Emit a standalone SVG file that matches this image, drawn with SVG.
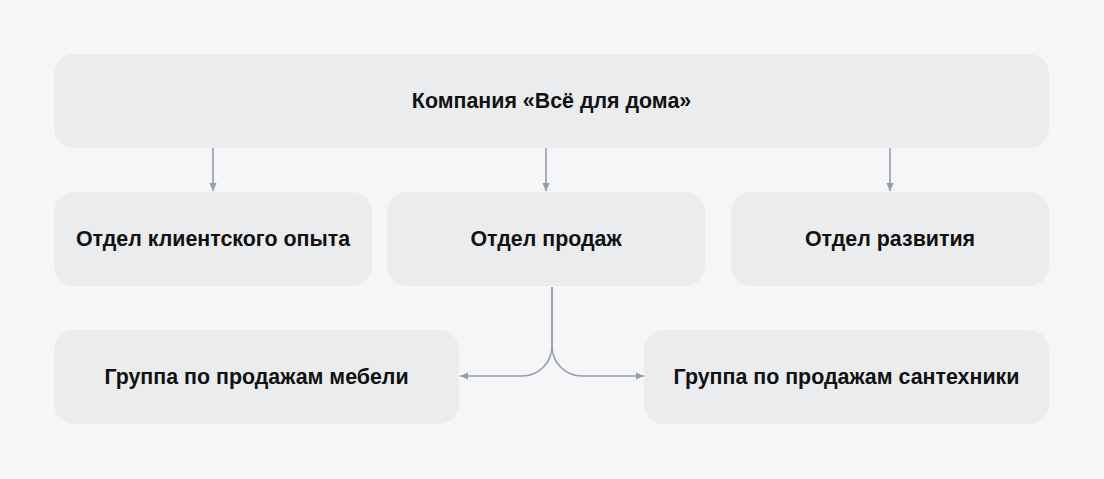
<svg xmlns="http://www.w3.org/2000/svg" width="1104" height="479" viewBox="0 0 1104 479">
<defs>
<style>
.box{fill:#ebecee}
.t{font-family:"Liberation Sans",Arial,sans-serif;font-weight:bold;font-size:21.4px;fill:#111;text-anchor:middle;dominant-baseline:central}
.c{fill:none;stroke:#979ca5;stroke-width:1.6}
</style>
<marker id="ah" viewBox="0 0 10 10" refX="10" refY="5" markerWidth="8" markerHeight="8" markerUnits="userSpaceOnUse" orient="auto-start-reverse">
<path d="M0 0.5L10 5L0 9.5Z" fill="#979ca5"/>
</marker>
</defs>
<rect width="1104" height="479" fill="#f5f6f8"/>
<g id="connectors">
<path class="c" d="M213 148V191" marker-end="url(#ah)"/>
<path class="c" d="M546 148V191" marker-end="url(#ah)"/>
<path class="c" d="M890 148V191" marker-end="url(#ah)"/>
<path class="c" d="M552 287V346A30 30 0 0 1 522 376H460" marker-end="url(#ah)"/>
<path class="c" d="M552 287V346A30 30 0 0 0 582 376H644" marker-end="url(#ah)"/>
</g>
<g id="company"><rect class="box" x="54" y="54" width="995" height="94" rx="20"/><text class="t" x="551.5" y="101">Компания «Всё для дома»</text></g>
<g id="cx"><rect class="box" x="54" y="192" width="318" height="94" rx="20"/><text class="t" x="213" y="239">Отдел клиентского опыта</text></g>
<g id="sales"><rect class="box" x="387" y="192" width="318" height="94" rx="20"/><text class="t" x="546" y="239">Отдел продаж</text></g>
<g id="dev"><rect class="box" x="731" y="192" width="318" height="94" rx="20"/><text class="t" x="890" y="239">Отдел развития</text></g>
<g id="furniture"><rect class="box" x="54" y="330" width="405" height="94" rx="20"/><text class="t" x="256.5" y="377">Группа по продажам мебели</text></g>
<g id="plumbing"><rect class="box" x="644" y="330" width="405" height="94" rx="20"/><text class="t" x="846.5" y="377">Группа по продажам сантехники</text></g>
</svg>
